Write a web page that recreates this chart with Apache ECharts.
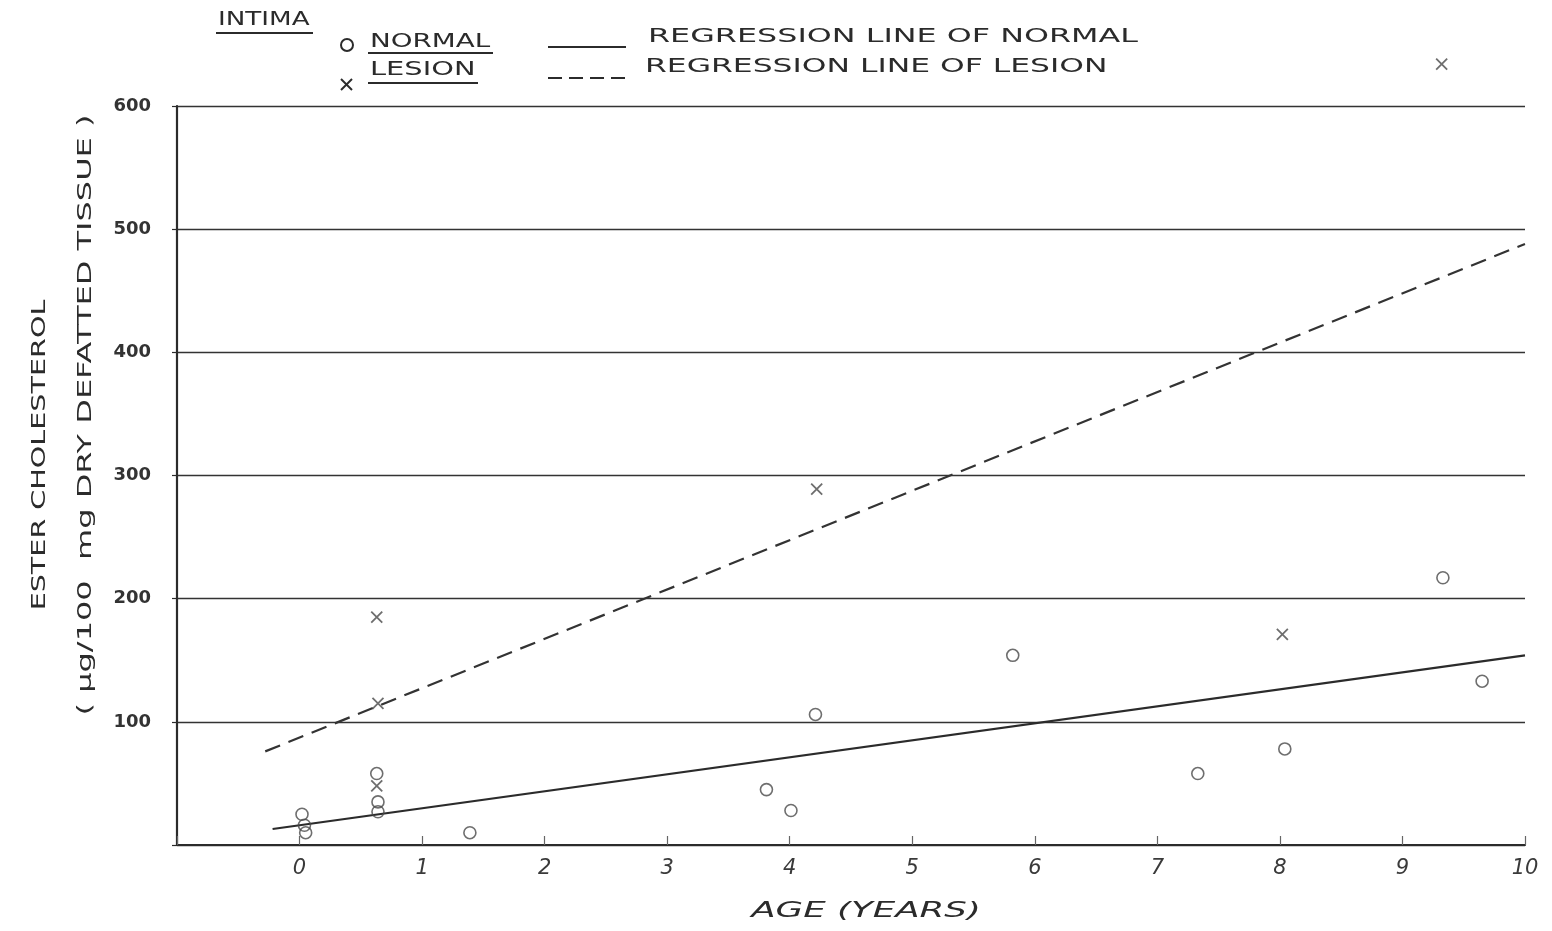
<!DOCTYPE html>
<html>
<head>
<meta charset="utf-8">
<script src="https://cdn.jsdelivr.net/npm/echarts@6/dist/echarts.min.js"></script>
<style>
html,body{margin:0;padding:0;background:#fff;}
#chart{width:1552px;height:931px;}
</style>
</head>
<body>
<div id="chart"></div>
<script>
// ---- data ----
var normalPoints = [
  [0.02, 25], [0.04, 16], [0.05, 10],
  [0.63, 58], [0.64, 35], [0.64, 27],
  [1.39, 10], [3.81, 45], [4.01, 28], [4.21, 106],
  [5.82, 154], [7.33, 58], [8.04, 78], [9.33, 217], [9.65, 133]
];
var lesionPoints = [
  [0.63, 185], [0.64, 115], [0.63, 48],
  [4.22, 289], [8.02, 171], [9.32, 634]
];
var normalRegression = [[-0.22, 13], [10.0, 154]];
var lesionRegression = [[-0.28, 76], [10.0, 488]];
var xTicks = [0, 1, 2, 3, 4, 5, 6, 7, 8, 9, 10];
var yTicks = [100, 200, 300, 400, 500, 600];

var titleText = 'INTIMA';
var seriesNames = ['NORMAL', 'LESION'];
var lineNames = ['REGRESSION LINE OF NORMAL', 'REGRESSION LINE OF LESION'];
var xName = 'AGE (YEARS)';
var yName1 = 'ESTER CHOLESTEROL';
var yName2 = '( \u03bcg/100  mg DRY DEFATTED TISSUE )';

var ink = '#2b2b2b';
var markInk = '#4a4a4a';
var hand = '"DejaVu Sans", sans-serif';
var crossPath = 'path://M0,0L10,10M10,0L0,10';

var chart = echarts.init(document.getElementById('chart'));

function txt(text, x, y, size, sx, opts) {
  opts = opts || {};
  return {
    type: 'text', x: x, y: y, scaleX: sx, scaleY: 1,
    rotation: opts.rotation || 0,
    style: {
      text: text, x: 0, y: 0,
      font: (opts.italic ? 'italic ' : '') + size + 'px ' + hand,
      fill: ink,
      textAlign: opts.align || 'left',
      textVerticalAlign: 'middle'
    }
  };
}
function seg(x1, y1, x2, y2, w, dash) {
  return {
    type: 'line',
    shape: {x1: x1, y1: y1, x2: x2, y2: y2},
    style: {stroke: ink, lineWidth: w, lineDash: dash || null}
  };
}

var option = {
  backgroundColor: '#ffffff',
  animation: false,
  grid: {left: 177, right: 27, top: 106, bottom: 86, containLabel: false},
  xAxis: {
    type: 'value', min: -1, max: 10, interval: 1,
    axisLine: {show: true, onZero: false, lineStyle: {color: ink, width: 2.2}},
    axisTick: {show: true, inside: true, length: 9, lineStyle: {color: '#666', width: 1.2}},
    axisLabel: {
      margin: 13, fontSize: 21, fontStyle: 'italic', color: '#3a3a3a', fontFamily: hand,
      formatter: function (v) { return xTicks.indexOf(v) >= 0 ? String(v) : ''; }
    },
    splitLine: {show: false}
  },
  yAxis: {
    type: 'value', min: 0, max: 600, interval: 100,
    axisLine: {show: true, onZero: false, lineStyle: {color: ink, width: 2.2}},
    axisTick: {show: true, length: 5, lineStyle: {color: ink, width: 1.2}},
    axisLabel: {
      margin: 26, fontSize: 18, fontWeight: 'bold', color: '#333', fontFamily: hand,
      formatter: function (v) { return yTicks.indexOf(v) >= 0 ? String(v) : ''; }
    },
    splitLine: {show: true, lineStyle: {color: '#333', width: 1.4}}
  },
  series: [
    {
      name: seriesNames[0], type: 'scatter', data: normalPoints, clip: false,
      symbol: 'circle', symbolSize: 12,
      itemStyle: {color: 'rgba(255,255,255,0)', borderColor: markInk, borderWidth: 1.6}
    },
    {
      name: seriesNames[1], type: 'scatter', data: lesionPoints, clip: false,
      symbol: crossPath, symbolSize: 11,
      itemStyle: {color: 'rgba(255,255,255,0)', borderColor: markInk, borderWidth: 1.8}
    },
    {
      name: lineNames[0], type: 'line', data: normalRegression, symbol: 'none',
      lineStyle: {color: ink, width: 2.2, type: 'solid'}, z: 1
    },
    {
      name: lineNames[1], type: 'line', data: lesionRegression, symbol: 'none',
      lineStyle: {color: '#333', width: 2.2, type: [16, 9]}, z: 1
    }
  ],
  graphic: [
    txt(titleText, 218, 20, 20, 1.31),
    seg(216, 33, 313, 33, 2),
    {type: 'circle', shape: {cx: 347, cy: 45, r: 6}, style: {fill: 'none', stroke: ink, lineWidth: 2}},
    txt(seriesNames[0], 370, 42, 19, 1.46),
    seg(368, 53, 493, 53, 2),
    seg(341, 79, 352, 90, 2),
    seg(352, 79, 341, 90, 2),
    txt(seriesNames[1], 370, 70, 19, 1.52),
    seg(368, 83, 478, 83, 2),
    seg(548, 47, 626, 47, 2),
    txt(lineNames[0], 648, 37, 20, 1.59),
    seg(548, 78, 632, 78, 2, [14, 7]),
    txt(lineNames[1], 645, 67, 20, 1.57),
    txt(xName, 866, 911, 22, 1.62, {align: 'center', italic: true}),
    txt(yName1, 40, 455, 20, 1.43, {align: 'center', rotation: Math.PI / 2}),
    txt(yName2, 86, 415, 20, 1.6, {align: 'center', rotation: Math.PI / 2})
  ]
};
chart.setOption(option);
</script>
</body>
</html>
